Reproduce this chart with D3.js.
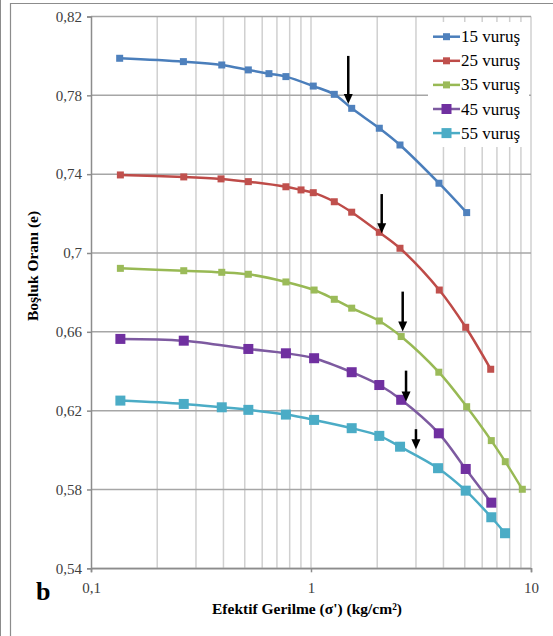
<!DOCTYPE html>
<html>
<head>
<meta charset="utf-8">
<script src="https://cdn.jsdelivr.net/npm/d3@7"></script>
<style>
  body { margin: 0; background: #fff; }
  svg text { font-family: "Liberation Serif", "Times New Roman", serif; }
</style>
</head>
<body>
<div class="chart"></div>
<script>
/* global d3 */
const width = 553, height = 636;

// efektif gerilme (kg/cm2) and boşluk oranı for each series
const sigma15 = [0.135, 0.263, 0.393, 0.519, 0.644, 0.769, 1.024, 1.276, 1.531, 2.044, 2.538, 3.817, 5.10];
const e15     = [0.7988, 0.7971, 0.7954, 0.7929, 0.7910, 0.7895, 0.7847, 0.7805, 0.7734, 0.7633, 0.7548, 0.7354, 0.7205];

const sigma25 = [0.136, 0.264, 0.390, 0.519, 0.769, 0.901, 1.024, 1.276, 1.531, 2.044, 2.538, 3.83, 5.05, 6.56];
const e25     = [0.7396, 0.7386, 0.7376, 0.7362, 0.7336, 0.7320, 0.7306, 0.7260, 0.7207, 0.7105, 0.7024, 0.6812, 0.6623, 0.6410];

const sigma35 = [0.136, 0.264, 0.393, 0.519, 0.769, 1.033, 1.276, 1.531, 2.044, 2.57, 3.81, 5.10, 6.6, 7.64, 9.13];
const e35     = [0.6922, 0.6910, 0.6902, 0.6892, 0.6853, 0.6812, 0.6765, 0.6720, 0.6655, 0.6576, 0.6395, 0.6220, 0.6048, 0.5941, 0.5801];

const sigma45 = [0.136, 0.264, 0.519, 0.769, 1.033, 1.531, 2.044, 2.57, 3.81, 5.05, 6.6];
const e45     = [0.6564, 0.6555, 0.6513, 0.6491, 0.6466, 0.6395, 0.6330, 0.6255, 0.6085, 0.5904, 0.5733];

const sigma55 = [0.136, 0.264, 0.393, 0.519, 0.769, 1.033, 1.531, 2.044, 2.54, 3.78, 5.05, 6.6, 7.62];
const e55     = [0.6251, 0.6234, 0.6217, 0.6204, 0.6180, 0.6153, 0.6111, 0.6072, 0.6017, 0.5908, 0.5794, 0.5659, 0.5578];

const seriesNames = ["15 vuruş", "25 vuruş", "35 vuruş", "45 vuruş", "55 vuruş"];

// arrows: x, top e, tip e
const arrowX   = [1.477, 2.096, 2.611, 2.704, 3.0];
const arrowTop = [0.8000, 0.7299, 0.6804, 0.6403, 0.6106];
const arrowTip = [0.7756, 0.7100, 0.6601, 0.6246, 0.6004];

const yTicks = [0.54, 0.58, 0.62, 0.66, 0.70, 0.74, 0.78, 0.82];
const yTickLabels = ["0,54", "0,58", "0,62", "0,66", "0,7", "0,74", "0,78", "0,82"];
const xTicks = [0.1, 1, 10];
const xTickLabels = ["0,1", "1", "10"];

const lineColors   = ["#4a7ebb", "#be4b48", "#98b954", "#7d5aa0", "#4bacc6"];
const markerColors = ["#4f81bd", "#c0504d", "#9bbb59", "#7030a0", "#4bacc6"];
const markerSizes  = [7, 7, 7, 10, 10];

const series = [
  [sigma15, e15], [sigma25, e25], [sigma35, e35], [sigma45, e45], [sigma55, e55]
].map(([xs, ys], i) => ({
  name: seriesNames[i],
  pts: xs.map((x, j) => ({x: x, y: ys[j]}))
}));

const plot = {left: 91, right: 531, top: 16.5, bottom: 568.3};

const x = d3.scaleLog().domain([0.1, 10]).range([plot.left, plot.right]);
const y = d3.scaleLinear().domain([0.54, 0.82]).range([plot.bottom, plot.top]);

const svg = d3.select(".chart").append("svg")
    .attr("width", width)
    .attr("height", height);

svg.append("rect").attr("width", width).attr("height", height).attr("fill", "#fff");

// outer frames
svg.append("line").attr("x1", 0.5).attr("x2", 0.5).attr("y1", 0).attr("y2", height)
    .attr("stroke", "#8c8c8c").attr("stroke-width", 1);
svg.append("path").attr("d", `M10.5,${height}V3.5H${width}`)
    .attr("fill", "none").attr("stroke", "#8c8c8c").attr("stroke-width", 1.2);

// vertical gridlines (log minors)
const vGrid = [];
for (let d = 0.1; d < 10; d *= 10) {
  for (let k = 2; k <= 10; k++) vGrid.push(+(d * k).toPrecision(3));
}
svg.append("g").selectAll("line").data(vGrid).join("line")
    .attr("x1", d => x(d)).attr("x2", d => x(d))
    .attr("y1", plot.top).attr("y2", plot.bottom)
    .attr("stroke", "#d0d0d0").attr("stroke-width", 1.5);

// horizontal gridlines
svg.append("g").selectAll("line").data(yTicks).join("line")
    .attr("x1", plot.left).attr("x2", plot.right)
    .attr("y1", d => y(d)).attr("y2", d => y(d))
    .attr("stroke", "#a6a6a6").attr("stroke-width", 1.5);

// axes
const yAxis = d3.axisLeft(y).tickValues(yTicks).tickSize(4).tickPadding(5)
    .tickFormat((d, i) => yTickLabels[i]);
const gy = svg.append("g").attr("transform", `translate(${plot.left},0)`).call(yAxis);
const xAxis = d3.axisBottom(x).tickValues(xTicks).tickSize(4).tickPadding(10)
    .tickFormat((d, i) => xTickLabels[i]);
const gx = svg.append("g").attr("transform", `translate(0,${plot.bottom})`).call(xAxis);
[gx, gy].forEach(g => {
  g.select(".domain").attr("stroke", "#8c8c8c").attr("stroke-width", 1.5);
  g.selectAll(".tick line").attr("stroke", "#8c8c8c").attr("stroke-width", 1.5);
  g.selectAll("text").attr("font-family", "Liberation Serif").attr("font-size", 15).attr("fill", "#404040");
});

// series
const line = d3.line().x(d => x(d.x)).y(d => y(d.y)).curve(d3.curveCatmullRom.alpha(0.5));
const gs = svg.append("g").selectAll("g").data(series).join("g");
gs.append("path")
    .attr("d", d => line(d.pts))
    .attr("fill", "none")
    .attr("stroke", (d, i) => lineColors[i])
    .attr("stroke-width", 2.5);
gs.each(function(d, i) {
  const s = markerSizes[i];
  d3.select(this).selectAll("rect").data(d.pts).join("rect")
      .attr("x", p => x(p.x) - s / 2).attr("y", p => y(p.y) - s / 2)
      .attr("width", s).attr("height", s)
      .attr("fill", markerColors[i]);
});

// arrows
const arrows = arrowX.map((v, i) => ({x: v, top: arrowTop[i], tip: arrowTip[i]}));
const ga = svg.append("g").selectAll("g").data(arrows).join("g");
ga.append("line")
    .attr("x1", d => x(d.x)).attr("x2", d => x(d.x))
    .attr("y1", d => y(d.top)).attr("y2", d => y(d.tip) - 6)
    .attr("stroke", "#000").attr("stroke-width", 2.5);
ga.append("path")
    .attr("d", d => `M${x(d.x) - 4.5},${y(d.tip) - 10}L${x(d.x) + 4.5},${y(d.tip) - 10}L${x(d.x)},${y(d.tip)}Z`)
    .attr("fill", "#000");

// legend
const legend = svg.append("g");
legend.append("rect").attr("x", 428).attr("y", 22).attr("width", 101).attr("height", 125).attr("fill", "#fff");
const li = legend.selectAll("g").data(series).join("g")
    .attr("transform", (d, i) => `translate(433,${36.7 + i * 24.1})`);
li.append("line").attr("x1", 0).attr("x2", 27).attr("y1", 0).attr("y2", 0)
    .attr("stroke", (d, i) => lineColors[i]).attr("stroke-width", 2.5);
li.append("rect")
    .attr("x", (d, i) => 13.5 - markerSizes[i] / 2).attr("y", (d, i) => -markerSizes[i] / 2)
    .attr("width", (d, i) => markerSizes[i]).attr("height", (d, i) => markerSizes[i])
    .attr("fill", (d, i) => markerColors[i]);
li.append("text").attr("x", 28).attr("y", 5.5)
    .attr("font-size", 17).attr("fill", "#000")
    .text(d => d.name);

// titles
svg.append("text")
    .attr("transform", "translate(38,266) rotate(-90)")
    .attr("text-anchor", "middle").attr("font-weight", "bold").attr("font-size", 15.5)
    .text("Boşluk Oranı (e)");
svg.append("text")
    .attr("x", 307).attr("y", 614)
    .attr("text-anchor", "middle").attr("font-weight", "bold").attr("font-size", 15.5)
    .text("Efektif Gerilme (σ') (kg/cm²)");
svg.append("text")
    .attr("x", 36).attr("y", 600)
    .attr("font-weight", "bold").attr("font-size", 26)
    .text("b");
</script>
</body>
</html>
